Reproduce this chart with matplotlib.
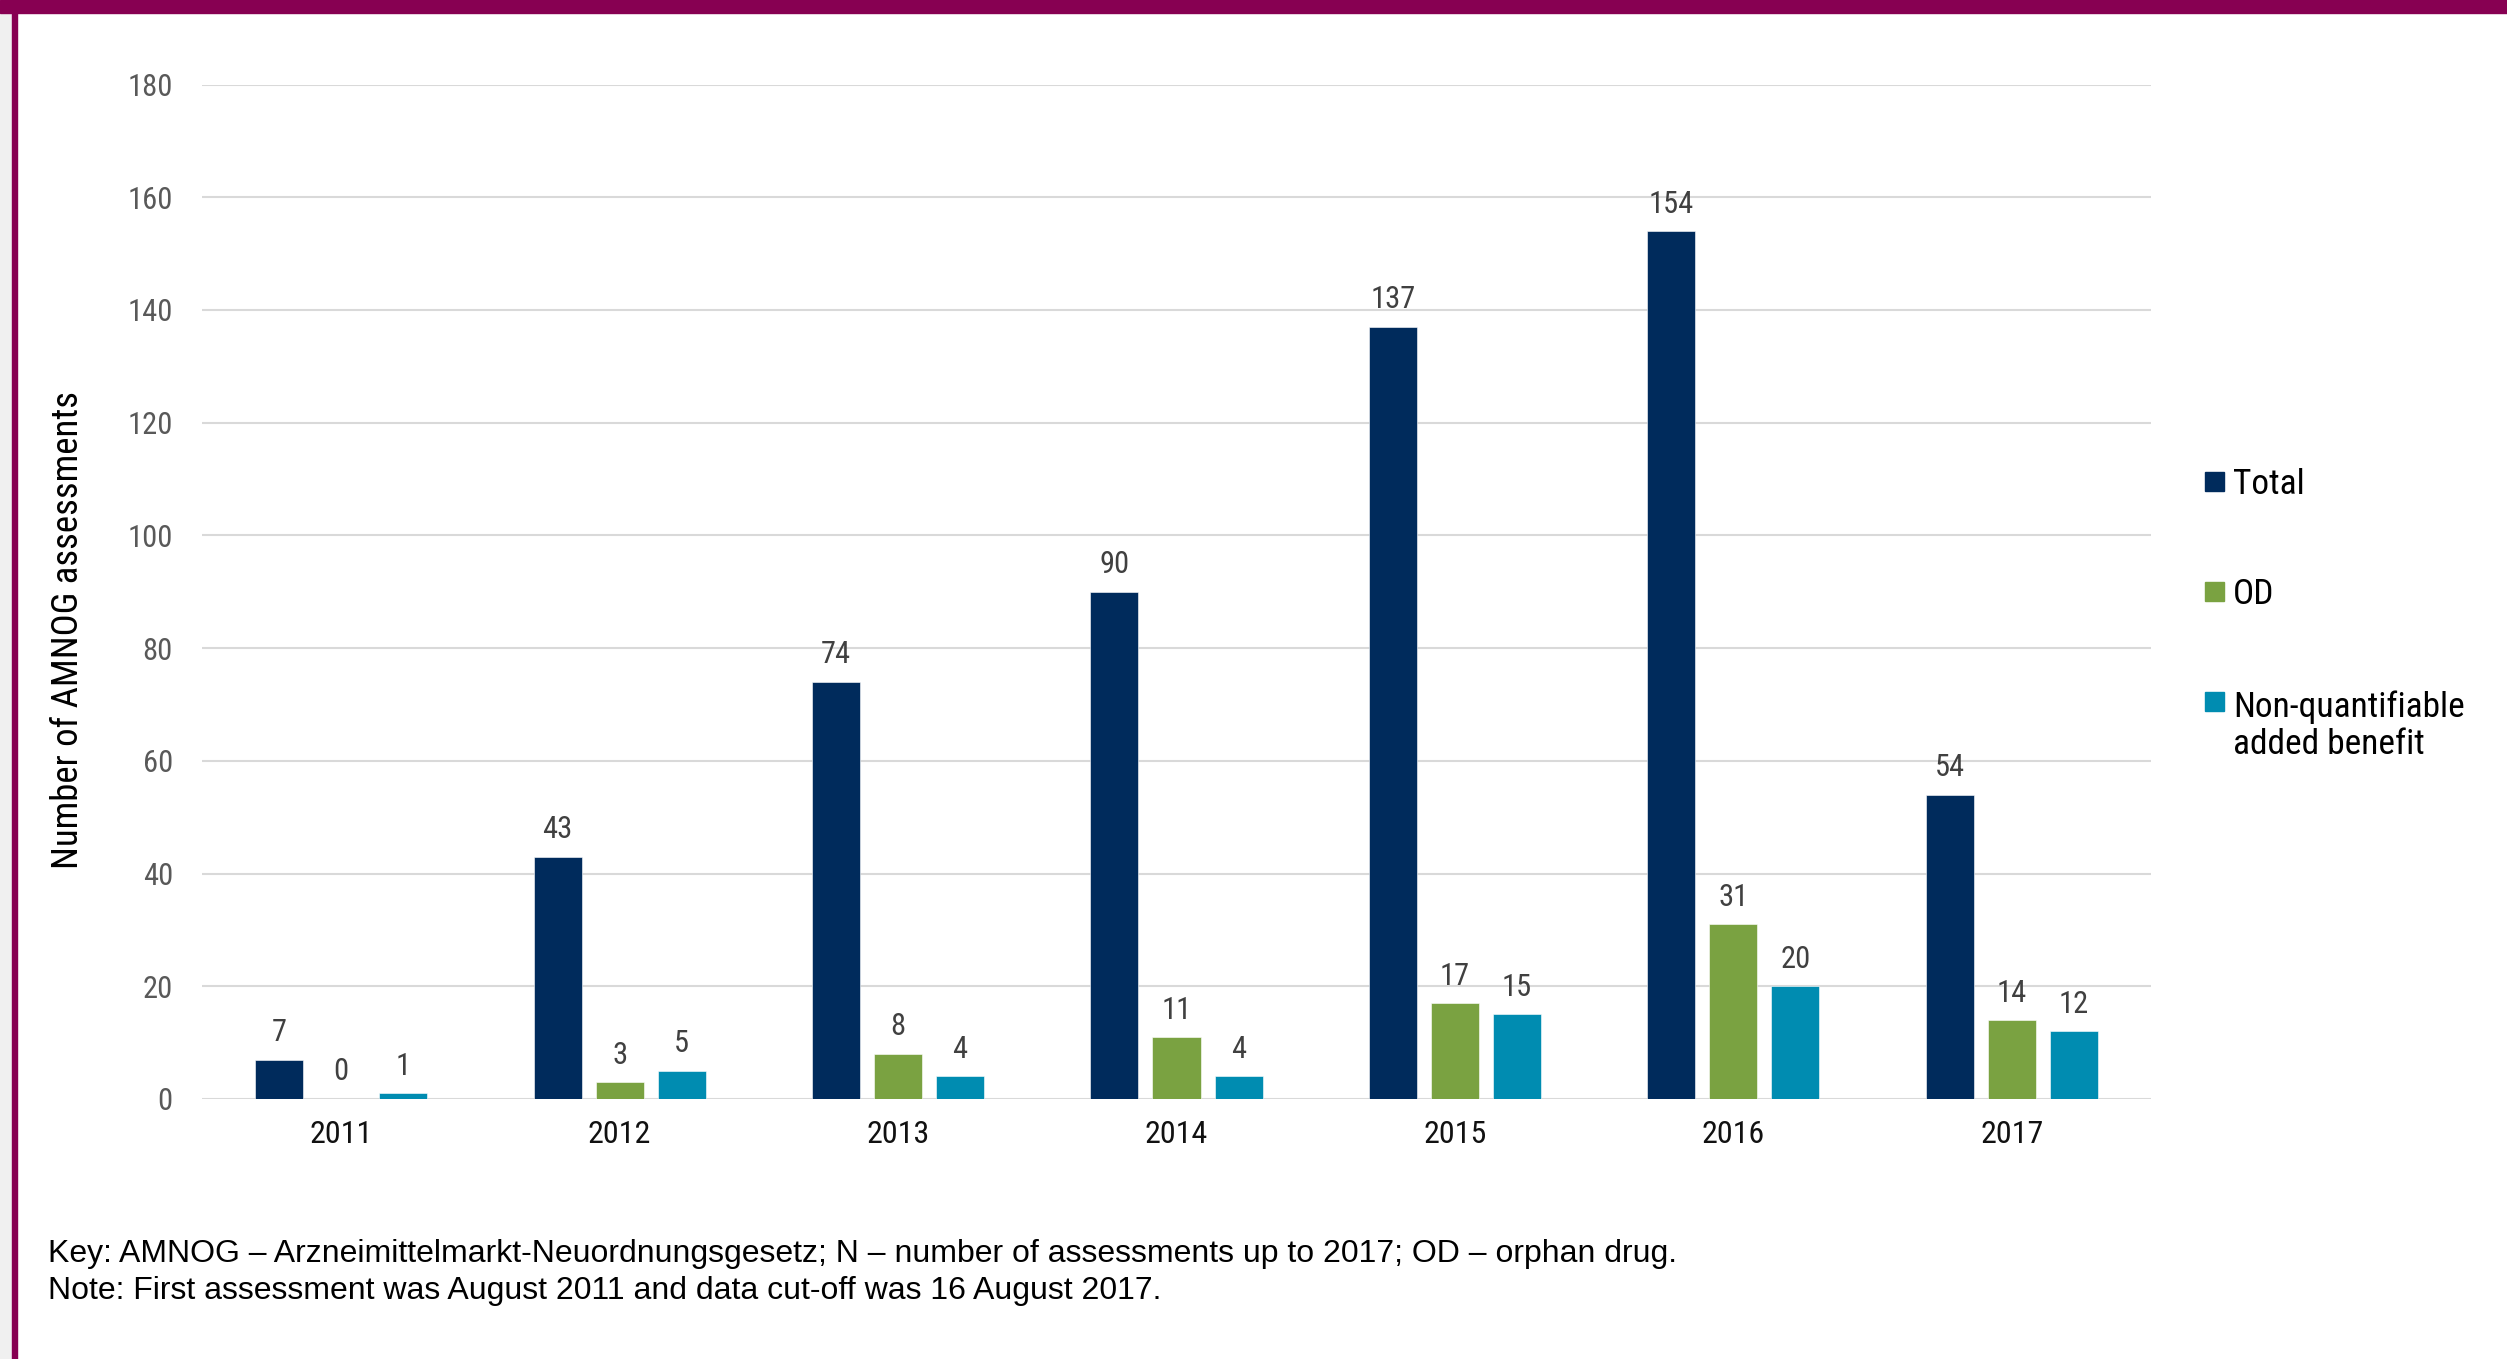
import matplotlib
matplotlib.use("Agg")
import matplotlib.pyplot as plt
import numpy as np
from matplotlib.patches import Rectangle

years = ["2011", "2012", "2013", "2014", "2015", "2016", "2017"]
total = [7, 43, 74, 90, 137, 154, 54]
orphan = [0, 3, 8, 11, 17, 31, 14]
non_quant = [1, 5, 4, 4, 15, 20, 12]
series_names = ["Total", "OD", "Non-quantifiable\nadded benefit"]
y_ticks = [0, 20, 40, 60, 80, 100, 120, 140, 160, 180]

NARROW = ["Roboto Condensed", "Archivo Narrow", "Liberation Sans", "DejaVu Sans"]
REGULAR = ["Liberation Sans", "DejaVu Sans"]
colors = ["#002B5C", "#7AA241", "#008CB1"]

W, H = 2507, 1359
fig = plt.figure(figsize=(W / 100, H / 100), dpi=100)
fig.patch.set_facecolor("white")

ax = fig.add_axes([202 / W, 1 - 1099 / H, 1949 / W, (1099 - 84.5) / H])

x = np.arange(len(years))
width = 0.1724
offset = 0.2227
for i, (vals, c, name) in enumerate(zip([total, orphan, non_quant], colors, series_names)):
    b = ax.bar(x + (i - 1) * offset, vals, width, color=c, label=name,
               edgecolor="white", linewidth=0.4, zorder=3)
    ax.bar_label(b, padding=9, fontsize=22, color="#404040", family=NARROW)

ax.set_xlim(-0.5, len(years) - 0.5)
ax.set_ylim(0, 180)
ax.set_yticks(y_ticks)
ax.set_xticks(x)
ax.set_xticklabels(years)
ax.grid(axis="y", color="#D9D9D9", linewidth=1.5, zorder=0)
ax.set_axisbelow(True)
for s in ax.spines.values():
    s.set_visible(False)
ax.tick_params(axis="both", length=0)
ax.tick_params(axis="y", pad=21, labelsize=22, labelcolor="#595959")
ax.tick_params(axis="x", pad=15, labelsize=23, labelcolor="#111111")
for lab in ax.get_xticklabels() + ax.get_yticklabels():
    lab.set_family(NARROW)

fig.text(68 / W, 1 - 630 / H, "Number of AMNOG assessments", rotation=90,
         ha="center", va="center", fontsize=26.5, family=NARROW, color="black")

# legend, laid out by hand to follow the reference spacing
leg_marker_y = [481.7, 591.7, 701.7]
leg_baseline = [494, 603.5, 753.5]
for c, name, yc, yb in zip(colors, series_names, leg_marker_y, leg_baseline):
    fig.patches.append(Rectangle((2205 / W, 1 - (yc + 9.5) / H), 19 / W, 19 / H,
                                 transform=fig.transFigure, color=c))
    fig.text(2233 / W, 1 - yb / H, name, ha="left", va="baseline",
             fontsize=25.5, family=NARROW, color="black", linespacing=1.12)

fig.text(48 / W, 1 - 1262 / H,
         "Key: AMNOG \u2013 Arzneimittelmarkt-Neuordnungsgesetz; N \u2013 number of assessments up to 2017; OD \u2013 orphan drug.",
         ha="left", va="baseline", fontsize=23, family=REGULAR, color="black")
fig.text(48 / W, 1 - 1299 / H,
         "Note: First assessment was August 2011 and data cut-off was 16 August 2017.",
         ha="left", va="baseline", fontsize=23, family=REGULAR, color="black")

# frame decoration
fig.patches.append(Rectangle((0, 0), 11.7 / W, 1, transform=fig.transFigure,
                             color="#F0F0F0", zorder=0))
fig.patches.append(Rectangle((11.7 / W, 0), 5 / W, 1, transform=fig.transFigure,
                             color="#870052", zorder=1))
fig.patches.append(Rectangle((0, 1 - 12.7 / H), 1, 12.7 / H, transform=fig.transFigure,
                             color="#870052", zorder=1))

fig.savefig("out.png", dpi=100)
